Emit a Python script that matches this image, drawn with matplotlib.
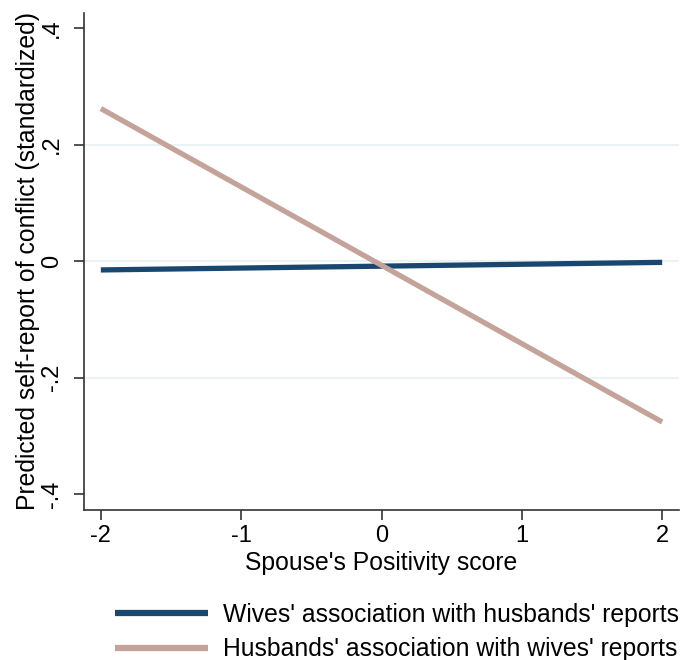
import matplotlib
matplotlib.use("Agg")
import matplotlib.pyplot as plt
import numpy as np

plt.rcParams['font.family'] = ['Liberation Sans', 'DejaVu Sans']

x_vals = [-2, 2]
wives = [-0.015, -0.002]
husbands = [0.262, -0.276]
labels = ["Wives' association with husbands' reports",
          "Husbands' association with wives' reports"]
xticks = [-2, -1, 0, 1, 2]
xticklabels = ["-2", "-1", "0", "1", "2"]
yticks = [-0.4, -0.2, 0, 0.2, 0.4]
yticklabels = ["-.4", "-.2", "0", ".2", ".4"]

fig = plt.figure(figsize=(6.97, 6.60), dpi=100)
ax = fig.add_axes([0.1205, 0.2273, 0.8537, 0.7530])

fs = 17.8
tfs = 17.0
ax.plot(x_vals, wives, color='#1a476f', lw=3.8, solid_capstyle='butt', label=labels[0], zorder=3)
ax.plot(x_vals, husbands, color='#c4a39b', lw=3.8, solid_capstyle='butt', label=labels[1], zorder=4)

ax.set_xlim(-2.12, 2.12)
ax.set_ylim(-0.427, 0.426)
ax.set_xticks(xticks)
ax.set_xticklabels(xticklabels)
ax.set_yticks(yticks)
ax.set_yticklabels(yticklabels, rotation=90, va='center')
ax.tick_params(labelsize=tfs, length=7, width=1.2, color='#333333', direction='out')
ax.tick_params(axis='y', pad=8)
ax.tick_params(axis='x', pad=4)
for t in [-0.2, 0, 0.2]:
    ax.axhline(t, color='#eaf2f3', lw=1.5, zorder=1)
for s in ['top', 'right']:
    ax.spines[s].set_visible(False)
for s in ['left', 'bottom']:
    ax.spines[s].set_linewidth(1.2)
    ax.spines[s].set_color('#333333')

ax.set_xlabel("Spouse's Positivity score", fontsize=fs, labelpad=3)
ax.set_ylabel("Predicted self-report of conflict (standardized)", fontsize=fs)
ax.yaxis.set_label_coords(-0.074, 0.5)

fig.legend(loc='upper left', bbox_to_anchor=(0.165, 0.087), fontsize=fs, frameon=False,
           handlelength=3.76, handletextpad=0.6, labelspacing=0.43, borderpad=0, borderaxespad=0)
for l in fig.legends[0].get_lines():
    l.set_linewidth(4.5)

fig.savefig("out.png", dpi=100)
